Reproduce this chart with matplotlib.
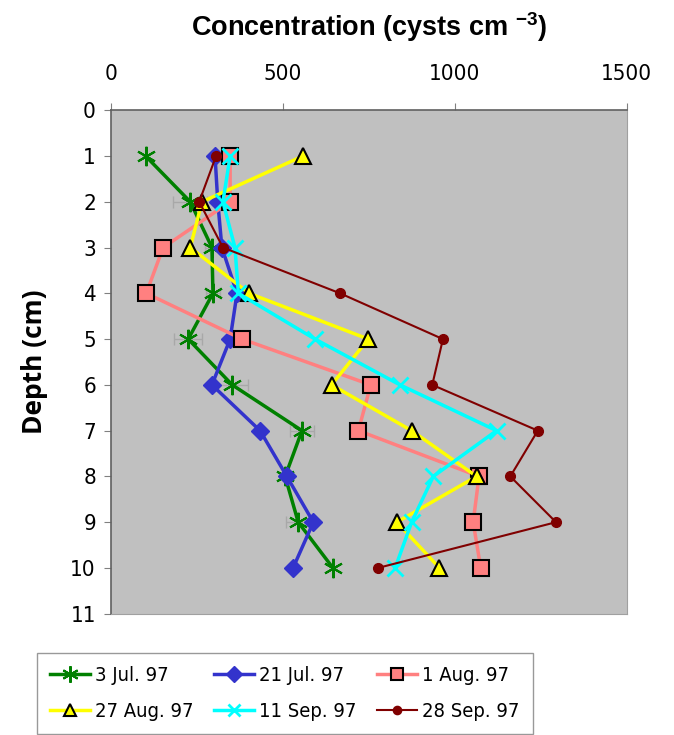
import matplotlib
matplotlib.use('Agg')
import matplotlib.pyplot as plt
from matplotlib import font_manager
from matplotlib.font_manager import FontProperties

# narrow sans for ticks and legend if one is installed
narrow = None
for f in font_manager.fontManager.ttflist:
    if f.name == 'Liberation Sans Narrow' and f.weight in (400, 'normal', 'regular') and f.style == 'normal':
        narrow = f.fname
        break
if narrow is None:
    for f in font_manager.fontManager.ttflist:
        if 'DejaVuSansCondensed.ttf' in f.fname:
            narrow = f.fname
            break

plt.rcParams['font.family'] = ['Liberation Sans', 'DejaVu Sans']
plt.rcParams['mathtext.fontset'] = 'custom'
plt.rcParams['mathtext.rm'] = 'Liberation Sans'
plt.rcParams['mathtext.bf'] = 'Liberation Sans:bold'

def tfont(size):
    if narrow:
        return FontProperties(fname=narrow, size=size)
    return FontProperties(family='Liberation Sans', size=size)

# data (depth in cm, concentration in cysts cm-3)
depth = [1, 2, 3, 4, 5, 6, 7, 8, 9, 10]
jul03 = [100, 230, 293, 296, 224, 352, 555, 506, 544, 645]
jul03_err = [0, 50, 20, 20, 40, 46, 34, 0, 35, 0]
jul21 = [302, 310, 322, 366, 346, 293, 433, 511, 588, 529]
aug01 = [346, 346, 151, 102, 381, 755, 719, 1070, 1053, 1075]
aug27 = [558, 264, 230, 401, 748, 641, 874, 1063, 831, 955]
sep11 = [346, 325, 360, 370, 593, 840, 1121, 937, 874, 826]
sep28 = [305, 256, 325, 666, 965, 934, 1241, 1161, 1294, 776]

fig = plt.figure(figsize=(6.74, 7.35), dpi=100)
ax = fig.add_axes([0.165, 0.165, 0.765, 0.685])
ax.set_facecolor('#c0c0c0')

# faint error bars on 3 Jul
ax.errorbar(jul03, depth, xerr=jul03_err, fmt='none', ecolor='#a8a8a8',
            elinewidth=1, capsize=4, zorder=1)

h1, = ax.plot(jul03, depth, color='#008000', lw=2.5, marker=(6, 2, 0), ms=14,
              mew=1.5, label='3 Jul. 97', zorder=2)
h2, = ax.plot(jul21, depth, color='#3333cc', lw=2.5, marker='D', ms=9,
              label='21 Jul. 97', zorder=3)
h3, = ax.plot(aug01, depth, color='#ff8080', lw=2.5, marker='s', ms=11,
              mfc='#ff8080', mec='black', mew=1.5, label='1 Aug. 97', zorder=4)
h4, = ax.plot(aug27, depth, color='#ffff00', lw=2.5, marker='^', ms=11,
              mfc='#ffff00', mec='black', mew=1.5, label='27 Aug. 97', zorder=5)
h5, = ax.plot(sep11, depth, color='#00ffff', lw=2.5, marker='x', ms=11,
              mew=2, label='11 Sep. 97', zorder=6)
h6, = ax.plot(sep28, depth, color='#800000', lw=1.5, marker='o', ms=7,
              label='28 Sep. 97', zorder=7)

ax.set_xlim(0, 1500)
ax.set_ylim(11, 0)
ax.set_xticks([0, 500, 1000, 1500])
ax.set_yticks(range(0, 12))
ax.xaxis.tick_top()
ax.xaxis.set_label_position('top')
ax.tick_params(axis='x', length=5, color='#808080', pad=14)
ax.tick_params(axis='y', length=5, color='#808080', pad=6)
for lab in ax.get_xticklabels() + ax.get_yticklabels():
    lab.set_fontproperties(tfont(16))

for s in ['right', 'bottom']:
    ax.spines[s].set_color('#a0a0a0')
    ax.spines[s].set_linewidth(0.8)
for s in ['left', 'top']:
    ax.spines[s].set_color('#606060')
    ax.spines[s].set_linewidth(1.2)

ax.set_xlabel(r'Concentration (cysts cm $^{\mathbf{-3}}$)', fontsize=19.5,
              fontweight='bold', labelpad=20)
ax.set_ylabel('Depth (cm)', fontsize=19, fontweight='bold',
              family=['Open Sans', 'DejaVu Sans'], labelpad=16)

# row-major order for a 3-column legend
hs = [h1, h4, h2, h5, h3, h6]
leg = fig.legend(hs, [h.get_label() for h in hs], loc='upper left',
                 bbox_to_anchor=(0.055, 0.112), borderaxespad=0, ncol=3,
                 prop=tfont(14.5), frameon=True, fancybox=False,
                 edgecolor='#808080', handlelength=2.0, handletextpad=0.25,
                 columnspacing=1.0, borderpad=0.65, labelspacing=0.85,
                 markerscale=0.85)
leg.get_frame().set_linewidth(1)

fig.savefig('out.png', dpi=100)
